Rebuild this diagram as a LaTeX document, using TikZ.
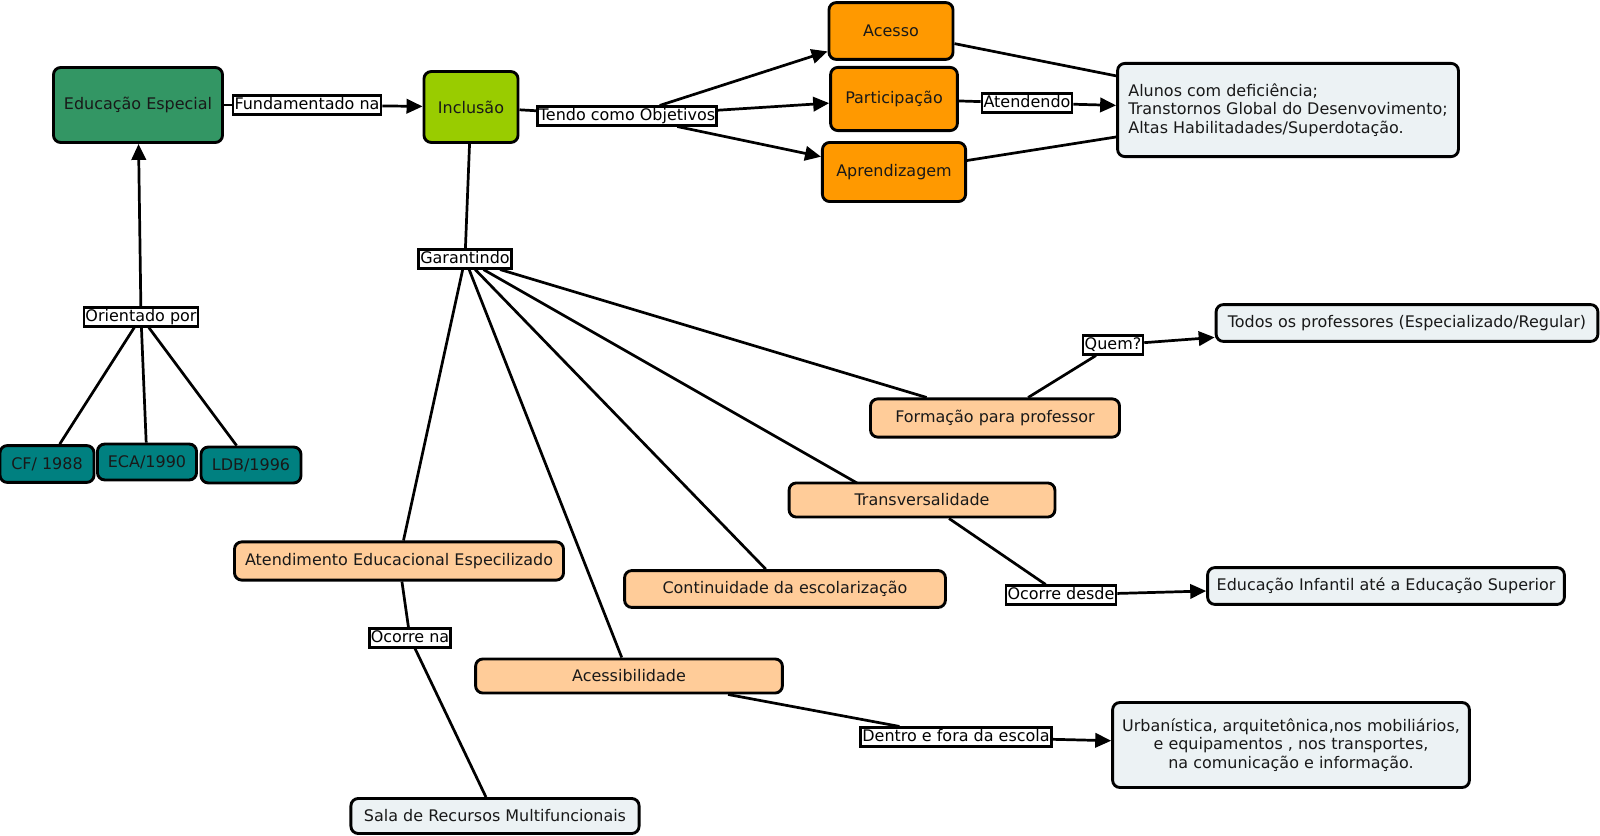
\documentclass[tikz,border=0pt]{standalone}
\usepackage{fontspec}
\setmainfont{DejaVu Sans}
\usetikzlibrary{arrows.meta}

\definecolor{verdeEsc}{RGB}{51,150,100}
\definecolor{verdeLima}{RGB}{153,204,0}
\definecolor{laranja}{RGB}{255,153,0}
\definecolor{pessego}{RGB}{255,204,153}
\definecolor{cinzaAz}{RGB}{236,242,244}
\definecolor{petroleo}{RGB}{0,128,128}

\begin{document}
\begin{tikzpicture}[x=0.022cm, y=-0.022cm,
    conceito/.style={draw, line width=1.8pt, rounded corners=0.16cm, inner sep=0pt,
      align=center, text=black!90, font=\fontsize{10}{11.5}\selectfont},
    ligacao/.style={draw, fill=white, line width=1.7pt, inner xsep=1pt, inner ysep=0.6pt,
      text height=8pt, text depth=2.3pt, font=\fontsize{10}{12}\selectfont},
    linha/.style={line width=1.7pt},
    seta/.style={line width=1.7pt, -{Triangle[length=10pt,width=9pt]}}]
  \useasboundingbox (0,0) rectangle (1600,836);

  % Conceitos
  \node[conceito, fill=verdeEsc, minimum width=3.72cm, minimum height=1.65cm] (edu) at (138,105) {Educação Especial};
  \node[conceito, fill=verdeLima, minimum width=2.07cm, minimum height=1.56cm] (incl) at (471,107) {Inclusão};
  \node[conceito, fill=laranja, minimum width=2.73cm, minimum height=1.25cm] (acesso) at (891,31) {Acesso};
  \node[conceito, fill=laranja, minimum width=2.79cm, minimum height=1.39cm] (partic) at (894,99) {Participação};
  \node[conceito, fill=laranja, minimum width=3.15cm, minimum height=1.30cm] (aprend) at (894,172) {Aprendizagem};
  \node[conceito, fill=cinzaAz, align=left, minimum width=7.50cm, minimum height=2.05cm] (alunos) at (1288,110)
    {Alunos com deficiência;\\Transtornos Global do Desenvovimento;\\Altas Habilitadades/Superdotação.};
  \node[conceito, fill=cinzaAz, minimum width=8.40cm, minimum height=0.81cm] (todos) at (1407,323)
    {Todos os professores (Especializado/Regular)};
  \node[conceito, fill=pessego, minimum width=5.48cm, minimum height=0.84cm] (formacao) at (995,418)
    {Formação para professor};
  \node[conceito, fill=pessego, minimum width=5.85cm, minimum height=0.75cm] (transv) at (922,500)
    {Transversalidade};
  \coordinate (transvtopo) at (857,483);
  \node[conceito, fill=pessego, minimum width=7.06cm, minimum height=0.81cm] (contin) at (785,589)
    {Continuidade da escolarização};
  \node[conceito, fill=pessego, minimum width=7.24cm, minimum height=0.84cm] (aee) at (399,561)
    {Atendimento Educacional Especilizado};
  \node[conceito, fill=pessego, minimum width=6.75cm, minimum height=0.75cm] (acessib) at (629,676)
    {Acessibilidade};
  \node[conceito, fill=cinzaAz, minimum width=7.85cm, minimum height=0.81cm] (infantil) at (1386,586)
    {Educação Infantil até a Educação Superior};
  \node[conceito, fill=cinzaAz, minimum width=7.85cm, minimum height=1.87cm] (urban) at (1291,745)
    {Urbanística, arquitetônica,nos mobiliários,\\e equipamentos , nos transportes,\\na comunicação e informação.};
  \node[conceito, fill=cinzaAz, minimum width=6.34cm, minimum height=0.77cm] (sala) at (495,816)
    {Sala de Recursos Multifuncionais};
  \node[conceito, fill=petroleo, minimum width=2.07cm, minimum height=0.81cm] (cf) at (47,464) {CF/ 1988};
  \node[conceito, fill=petroleo, minimum width=2.18cm, minimum height=0.79cm] (eca) at (147,462) {ECA/1990};
  \node[conceito, fill=petroleo, minimum width=2.20cm, minimum height=0.79cm] (ldb) at (251,465) {LDB/1996};

  % Frases de ligacao
  \node[ligacao] (fund) at (307,105) {Fundamentado na};
  \node[ligacao] (tendo) at (627,116) {Tendo como Objetivos};
  \node[ligacao] (atend) at (1027,103) {Atendendo};
  \node[ligacao] (garant) at (465,259) {Garantindo};
  \node[ligacao] (orient) at (141,317) {Orientado por};
  \node[ligacao] (quem) at (1113,345) {Quem?};
  \node[ligacao] (desde) at (1061,595) {Ocorre desde};
  \node[ligacao] (ocorre) at (410,638) {Ocorre na};
  \node[ligacao] (dentro) at (956,737) {Dentro e fora da escola};

  % Ligacoes
  \draw[linha] (cf) -- (orient);
  \draw[linha] (eca) -- (orient);
  \draw[linha] (ldb) -- (orient);
  \draw[seta] (orient) -- (edu);
  \draw[linha] (edu) -- (fund);
  \draw[seta] (fund) -- (incl);
  \draw[linha] (incl) -- (tendo);
  \draw[seta] (tendo) -- (acesso);
  \draw[seta] (tendo) -- (partic);
  \draw[seta] (tendo) -- (aprend);
  \draw[linha] (partic) -- (atend);
  \draw[seta] (atend) -- (alunos);
  \draw[linha] (acesso) -- (alunos);
  \draw[linha] (aprend) -- (alunos);
  \draw[linha] (incl) -- (garant);
  \draw[linha] (garant) -- (formacao);
  \draw[linha] (garant) -- (transvtopo);
  \draw[linha] (garant) -- (contin);
  \draw[linha] (garant) -- (aee);
  \draw[linha] (garant) -- (acessib);
  \draw[linha] (formacao) -- (quem);
  \draw[seta] (quem) -- (todos);
  \draw[linha] (transv) -- (desde);
  \draw[seta] (desde) -- (infantil);
  \draw[linha] (aee) -- (ocorre);
  \draw[linha] (ocorre) -- (sala);
  \draw[linha] (acessib) -- (dentro);
  \draw[seta] (dentro) -- (urban);
\end{tikzpicture}
\end{document}
